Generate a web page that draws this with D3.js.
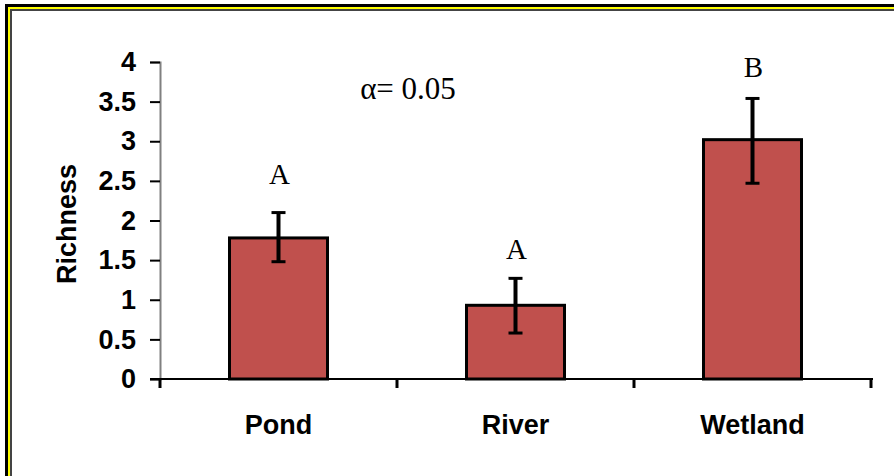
<!DOCTYPE html>
<html><head><meta charset="utf-8">
<script src="https://cdn.jsdelivr.net/npm/d3@7"></script>
<style>body{margin:0;background:#fff}svg{display:block}</style>
</head><body>
<script>
const categories = ["Pond", "River", "Wetland"];
const means = [1.78, 0.93, 3.02];
const errLow = [1.48, 0.58, 2.47];
const errHigh = [2.10, 1.27, 3.54];
const groupLetters = ["A", "A", "B"];
const letterY = [2.46, 1.51, 3.81];
const yTicks = [0, 0.5, 1, 1.5, 2, 2.5, 3, 3.5, 4];
const yLabel = "Richness";
const note = "α= 0.05";

const W = 894, H = 476;
const svg = d3.select("body").append("svg").attr("width", W).attr("height", H);

// frame
svg.append("rect").attr("x", 6.5).attr("y", 5.5).attr("width", W + 20).attr("height", H + 20)
  .attr("fill", "none").attr("stroke", "#000").attr("stroke-width", 3);
svg.append("rect").attr("x", 9).attr("y", 8).attr("width", W + 20).attr("height", H + 20)
  .attr("fill", "none").attr("stroke", "#ffff00").attr("stroke-width", 2);
svg.append("rect").attr("x", 11).attr("y", 10).attr("width", W + 20).attr("height", H + 20)
  .attr("fill", "none").attr("stroke", "#444").attr("stroke-width", 2);

const x = d3.scaleBand().domain(categories).range([160, 871]).paddingInner(0).paddingOuter(0);
const y = d3.scaleLinear().domain([0, 4]).range([379, 62]);

const sans = "Liberation Sans, Arial, sans-serif";
const serif = "Liberation Serif, Times New Roman, serif";

// bars
const barW = 98;
svg.selectAll("rect.bar").data(categories).join("rect").attr("class", "bar")
  .attr("x", d => x(d) + x.bandwidth() / 2 - barW / 2)
  .attr("y", (d, i) => y(means[i]))
  .attr("width", barW)
  .attr("height", (d, i) => y(0) - y(means[i]))
  .attr("fill", "#C0504D").attr("stroke", "#000").attr("stroke-width", 3);

// error bars + group letters
const cap = 14;
categories.forEach((c, i) => {
  const cx = x(c) + x.bandwidth() / 2;
  const g = svg.append("g").attr("stroke", "#000");
  g.append("line").attr("x1", cx).attr("x2", cx).attr("y1", y(errHigh[i])).attr("y2", y(errLow[i])).attr("stroke-width", 4);
  g.append("line").attr("x1", cx - cap / 2).attr("x2", cx + cap / 2).attr("y1", y(errHigh[i])).attr("y2", y(errHigh[i])).attr("stroke-width", 3);
  g.append("line").attr("x1", cx - cap / 2).attr("x2", cx + cap / 2).attr("y1", y(errLow[i])).attr("y2", y(errLow[i])).attr("stroke-width", 3);
  svg.append("text").attr("x", cx + 1).attr("y", y(letterY[i]))
    .attr("text-anchor", "middle").attr("font-family", serif)
    .attr("font-size", 29).attr("fill", "#000").text(groupLetters[i]);
});

// y axis
const yAxis = svg.append("g").attr("transform", "translate(160,0)")
  .call(d3.axisLeft(y).tickValues(yTicks).tickSize(10).tickPadding(14).tickFormat(d3.format("")));
yAxis.select(".domain").attr("stroke", "#808080").attr("stroke-width", 2);
yAxis.selectAll(".tick line").attr("stroke", "#000").attr("stroke-width", 2);
yAxis.selectAll("text").attr("font-family", sans)
  .attr("font-size", 27).attr("font-weight", "bold").attr("fill", "#000");

// x axis
const xg = svg.append("g").attr("transform", "translate(0,379)");
xg.append("line").attr("x1", 150).attr("x2", 873).attr("stroke", "#000").attr("stroke-width", 2);
const edges = categories.map(c => x(c)).concat([x(categories[categories.length - 1]) + x.bandwidth()]);
xg.selectAll("line.tk").data(edges).join("line").attr("class", "tk")
  .attr("x1", d => d).attr("x2", d => d).attr("y1", 0).attr("y2", 9)
  .attr("stroke", "#000").attr("stroke-width", 3);
xg.selectAll("text").data(categories).join("text")
  .attr("x", d => x(d) + x.bandwidth() / 2).attr("y", 55)
  .attr("text-anchor", "middle").attr("font-family", sans)
  .attr("font-size", 27).attr("font-weight", "bold").attr("fill", "#000").text(d => d);

// y label
svg.append("text").attr("transform", "translate(76,224) rotate(-90)")
  .attr("text-anchor", "middle").attr("font-family", sans)
  .attr("font-size", 27).attr("font-weight", "bold").attr("fill", "#000").text(yLabel);

// note
svg.append("text").attr("x", 408).attr("y", 99).attr("text-anchor", "middle")
  .attr("font-family", serif).attr("font-size", 31)
  .attr("fill", "#000").text(note);
</script>
</body></html>
